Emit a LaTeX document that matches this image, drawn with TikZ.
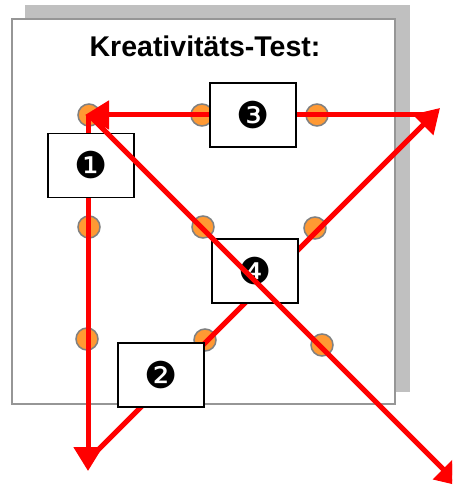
\documentclass[tikz,border=0pt]{standalone}
\usepackage{fontspec}
\setmainfont{Liberation Sans}
\newfontfamily\djv{DejaVu Sans}
\usetikzlibrary{arrows.meta}
\definecolor{dotorange}{RGB}{255,153,51}
\definecolor{dotgray}{RGB}{128,128,128}
\definecolor{shadowgray}{RGB}{192,192,192}
\definecolor{panelgray}{RGB}{150,150,150}
\tikzset{
  dotn/.style={circle, minimum size=22pt, inner sep=0pt, fill=dotorange, draw=dotgray, line width=1.5pt},
  boxn/.style={rectangle, minimum width=86pt, minimum height=64pt, inner sep=0pt, fill=white, draw=black, line width=1.5pt, font=\djv\fontsize{37}{37}\selectfont},
  redline/.style={draw=red, line width=5pt, -{Triangle[length=24pt,width=28pt]}},
}
\begin{document}
\begin{tikzpicture}[x=1pt,y=-1pt]
\useasboundingbox (0,0) rectangle (452,486);
\clip (0,0) rectangle (452,486);
% shadow and panel
\fill[shadowgray] (25,5) rectangle (410,392);
\draw[fill=white, draw=panelgray, line width=1.5pt] (12,19) rectangle (395,404);
\node[font=\bfseries\fontsize{28.5}{28.5}\selectfont, anchor=base] (title) at (205,57) {Kreativitäts-Test:};
% dots
\node[dotn] (d11) at (89,115) {};
\node[dotn] (d12) at (202,115) {};
\node[dotn] (d13) at (317,115) {};
\node[dotn] (d21) at (89,227) {};
\node[dotn] (d22) at (203,227) {};
\node[dotn] (d23) at (315,228) {};
\node[dotn] (d31) at (87,339) {};
\node[dotn] (d32) at (205,340) {};
\node[dotn] (d33) at (322,345) {};
% coordinates for free ends
\coordinate (tipA) at (88,471);
\coordinate (startB) at (95,453);
\coordinate (tipB) at (440,108);
\coordinate (startC) at (430,115);
\coordinate (tipC) at (85,115);
\coordinate (tipD) at (460,486);
% lines under boxes
\draw[redline] (88,115) -- (tipA);
\draw[redline] (startB) -- (tipB);
\draw[redline] (startC) -- (tipC);
% boxes
\node[boxn] (b1) at (91,165.5) {❶};
\node[boxn] (b3) at (253,115) {❸};
\node[boxn] (b4) at (255,271) {❹};
\node[boxn] (b2) at (161,375) {❷};
% diagonal on top
\draw[redline] (d11.center) -- (tipD);
\end{tikzpicture}
\end{document}
